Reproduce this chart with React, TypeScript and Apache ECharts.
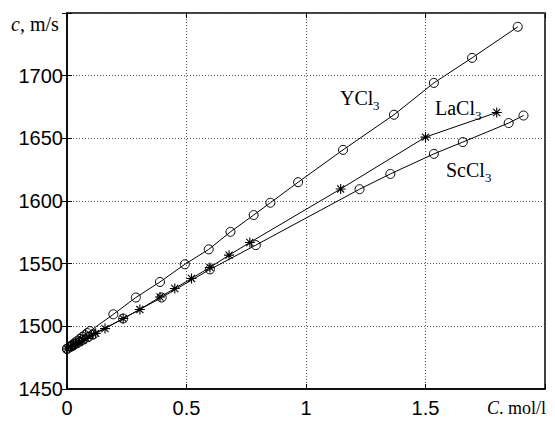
import React, { useEffect, useRef } from "react";
import * as echarts from "echarts";

// Concentration (mol/l) and speed of sound (m/s) for each salt solution
const yclConc = [0, 0.015, 0.025, 0.035, 0.045, 0.055, 0.065, 0.075, 0.085, 0.096, 0.194, 0.288, 0.389, 0.493, 0.593, 0.684, 0.781, 0.851, 0.967, 1.155, 1.368, 1.535, 1.695, 1.886];
const yclSpeed = [1482, 1484.2, 1485.7, 1487.2, 1488.6, 1490.1, 1491.6, 1493, 1494.6, 1496.2, 1509.6, 1523, 1535.4, 1549.5, 1561.4, 1575.4, 1588.8, 1598.6, 1615, 1640.8, 1668.8, 1694.2, 1714.2, 1739];

const laclConc = [0, 0.015, 0.025, 0.035, 0.05, 0.065, 0.08, 0.1, 0.12, 0.159, 0.235, 0.305, 0.389, 0.451, 0.521, 0.598, 0.678, 0.765, 1.145, 1.5, 1.798];
const laclSpeed = [1482, 1483.5, 1484.6, 1485.6, 1487.2, 1488.8, 1490.4, 1492.5, 1494.4, 1498.2, 1506.2, 1513.4, 1523.4, 1530.2, 1538.2, 1547, 1556.8, 1566.9, 1609.6, 1651, 1670.6];

const scclConc = [0, 0.015, 0.025, 0.04, 0.055, 0.07, 0.09, 0.11, 0.235, 0.396, 0.598, 0.79, 1.224, 1.353, 1.535, 1.656, 1.848, 1.91];
const scclSpeed = [1482, 1483.6, 1484.8, 1486.3, 1487.9, 1489.5, 1491.6, 1493.6, 1506.2, 1523, 1545.4, 1564.8, 1609.4, 1621.6, 1637.6, 1647, 1662.2, 1668.2];

const xTicks = { min: 0, max: 2, step: 0.5 };
const yTicks = { min: 1450, max: 1750, step: 50 };

const ASTERISK = "path://M0 -10L0 10M-10 0L10 0M-7.07 -7.07L7.07 7.07M-7.07 7.07L7.07 -7.07";

const serif = "'Liberation Serif', 'Times New Roman', serif";
const sans = "'Liberation Sans', Arial, sans-serif";

function pairs(xs: number[], ys: number[]) {
  return xs.map((x, i) => [x, ys[i]]);
}

function saltLabel(name: string, x: number, y: number, mainWidth: number) {
  return {
    type: "group",
    x,
    y,
    children: [
      { type: "text", x: 0, y: 0, style: { text: name, font: `20px ${serif}`, fill: "#000", verticalAlign: "middle" } },
      { type: "text", x: mainWidth, y: 7, style: { text: "3", font: `13px ${serif}`, fill: "#000", verticalAlign: "middle" } },
    ],
  };
}

export default function App() {
  const ref = useRef<HTMLDivElement>(null);

  useEffect(() => {
    if (!ref.current) return;
    const chart = echarts.init(ref.current, null, { renderer: "svg" });
    const lineStyle = { color: "#000", width: 1 };
    const circleItem = { color: "transparent", borderColor: "#000", borderWidth: 1 };
    const starItem = { color: "transparent", borderColor: "#000", borderWidth: 1.1 };

    const grid = {
      left: 67,
      right: 10,
      top: 13,
      bottom: 32,
      show: true,
      borderColor: "#000",
      borderWidth: 1.5,
      backgroundColor: "#fff",
    };

    chart.setOption({
      animation: false,
      backgroundColor: "#fff",
      grid,
      xAxis: [
        {
          type: "value",
          min: xTicks.min,
          max: xTicks.max,
          interval: xTicks.step,
          axisLine: { show: true, onZero: false, lineStyle: { color: "#000", width: 1.5 } },
          axisTick: { show: true, inside: true, length: 5, lineStyle: { color: "#000" } },
          axisLabel: {
            margin: 9,
            fontFamily: sans,
            fontSize: 20,
            color: "#000",
            formatter: (v: number) => (v >= xTicks.max ? "" : String(v)),
          },
          splitLine: { show: true, lineStyle: { color: "#555", type: [1, 2], width: 1 } },
        },
        {
          type: "value",
          position: "top",
          min: xTicks.min,
          max: xTicks.max,
          interval: xTicks.step,
          axisLine: { show: false },
          axisTick: { show: true, inside: true, length: 5, lineStyle: { color: "#000" } },
          axisLabel: { show: false },
          splitLine: { show: false },
        },
      ],
      yAxis: [
        {
          type: "value",
          min: yTicks.min,
          max: yTicks.max,
          interval: yTicks.step,
          axisLine: { show: true, onZero: false, lineStyle: { color: "#000", width: 1.5 } },
          axisTick: { show: true, inside: true, length: 5, lineStyle: { color: "#000" } },
          axisLabel: {
            margin: 4,
            fontFamily: sans,
            fontSize: 20,
            color: "#000",
            formatter: (v: number) => (v >= yTicks.max ? "" : String(v)),
          },
          splitLine: { show: true, lineStyle: { color: "#555", type: [1, 2], width: 1 } },
        },
        {
          type: "value",
          position: "right",
          min: yTicks.min,
          max: yTicks.max,
          interval: yTicks.step,
          axisLine: { show: false },
          axisTick: { show: true, inside: true, length: 5, lineStyle: { color: "#000" } },
          axisLabel: { show: false },
          splitLine: { show: false },
        },
      ],
      series: [
        {
          name: "YCl3",
          type: "line",
          data: pairs(yclConc, yclSpeed),
          symbol: "circle",
          symbolSize: 9,
          showAllSymbol: true,
          lineStyle,
          itemStyle: circleItem,
        },
        {
          name: "LaCl3",
          type: "line",
          data: pairs(laclConc, laclSpeed),
          symbol: ASTERISK,
          symbolSize: 10,
          showAllSymbol: true,
          lineStyle,
          itemStyle: starItem,
        },
        {
          name: "ScCl3",
          type: "line",
          data: pairs(scclConc, scclSpeed),
          symbol: "circle",
          symbolSize: 9,
          showAllSymbol: true,
          lineStyle,
          itemStyle: circleItem,
        },
      ],
      graphic: [
        {
          type: "text",
          left: 11,
          top: 14,
          style: {
            rich: {
              i: { font: `italic 20px ${serif}`, fill: "#000" },
              n: { font: `20px ${serif}`, fill: "#000" },
            },
            text: "{i|c}{n|, m/s}",
          },
        },
        {
          type: "text",
          left: 487,
          top: 399,
          style: {
            rich: {
              i: { font: `italic 18px ${serif}`, fill: "#000" },
              n: { font: `18px ${serif}`, fill: "#000" },
            },
            text: "{i|C}{n|. mol/l}",
          },
        },
        saltLabel("YCl", 340, 98, 33),
        saltLabel("LaCl", 435, 108, 40),
        saltLabel("ScCl", 446, 170, 39),
      ],
    });

    return () => chart.dispose();
  }, []);

  return (
    <div
      ref={ref}
      style={{ position: "fixed", left: 0, top: 0, width: 555, height: 421, background: "#fff" }}
    />
  );
}
